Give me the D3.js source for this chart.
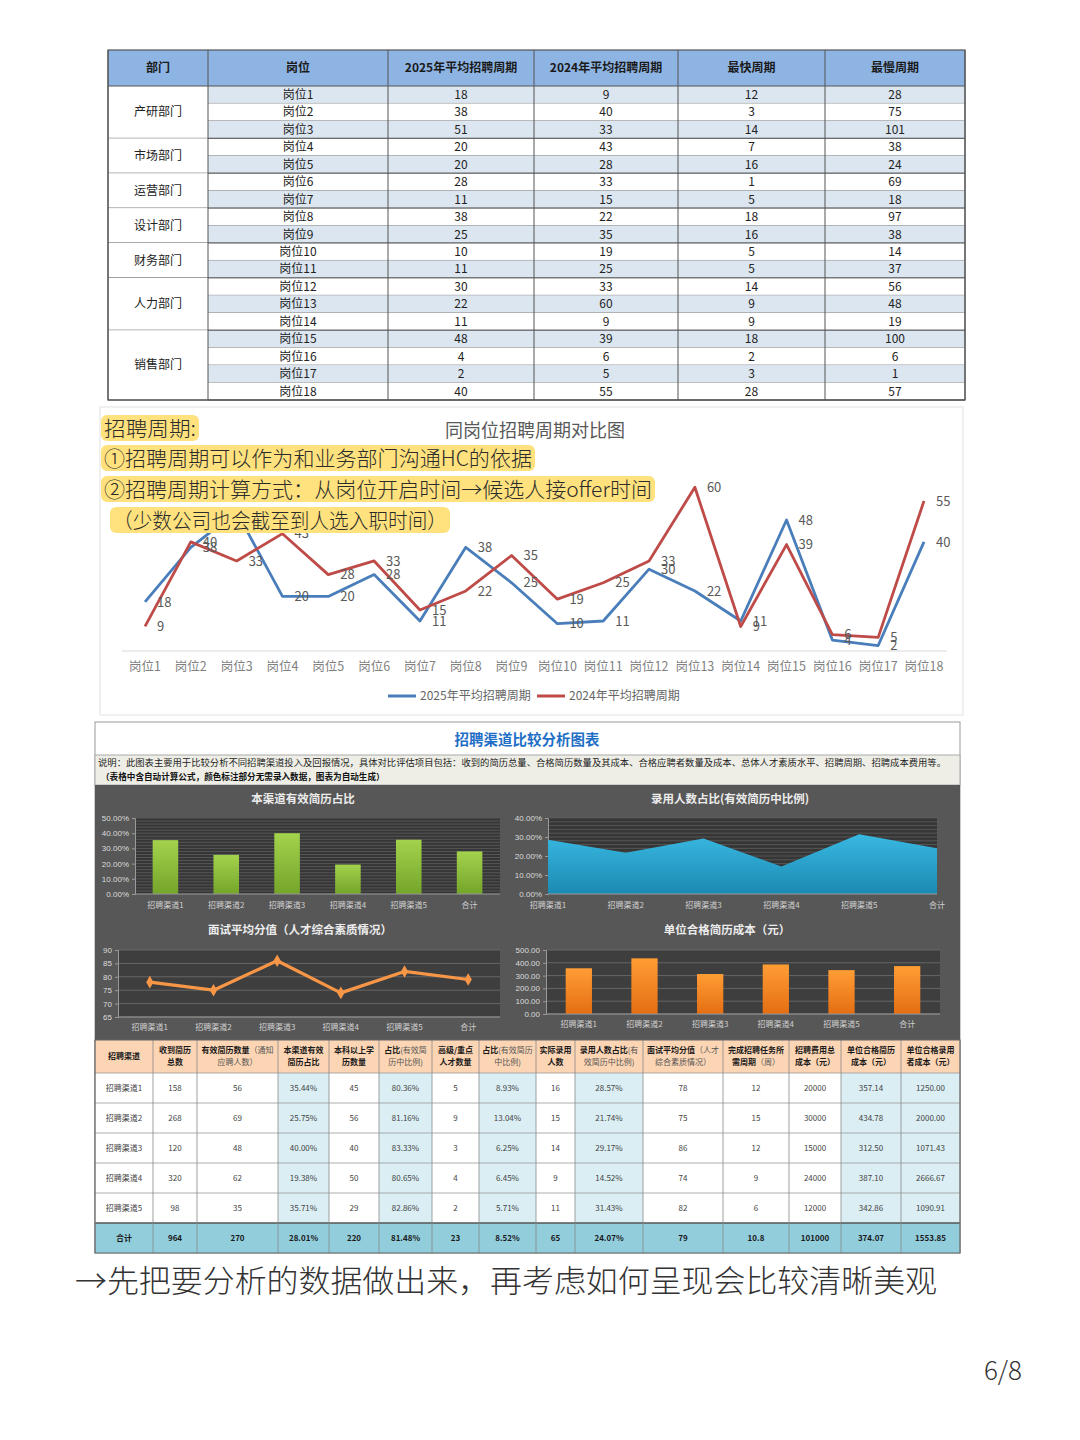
<!DOCTYPE html>
<html>
<head>
<meta charset="utf-8">
<script src="https://cdn.jsdelivr.net/npm/d3@7"></script>
<style>
body { margin: 0; background: #fff; }
svg { display: block; }
</style>
</head>
<body>
<div id="chart"></div>
<script>
// ---------- data: position table ----------
const positions = ['岗位1','岗位2','岗位3','岗位4','岗位5','岗位6','岗位7','岗位8','岗位9',
                   '岗位10','岗位11','岗位12','岗位13','岗位14','岗位15','岗位16','岗位17','岗位18'];
const deptNames = ['产研部门','市场部门','运营部门','设计部门','财务部门','人力部门','销售部门'];
const deptSizes = [3, 2, 2, 2, 2, 3, 4];
const cycle2025 = [18,38,51,20,20,28,11,38,25,10,11,30,22,11,48,4,2,40];
const cycle2024 = [9,40,33,43,28,33,15,22,35,19,25,33,60,9,39,6,5,55];
const fastest   = [12,3,14,7,16,1,5,18,16,5,5,14,9,9,18,2,3,28];
const slowest   = [28,75,101,38,24,69,18,97,38,14,37,56,48,19,100,6,1,57];
const tableHeaders = ['部门','岗位','2025年平均招聘周期','2024年平均招聘周期','最快周期','最慢周期'];
const seriesNames = ['2025年平均招聘周期','2024年平均招聘周期'];

// ---------- data: channels (last item = 合计) ----------
const channels      = ['招聘渠道1','招聘渠道2','招聘渠道3','招聘渠道4','招聘渠道5','合计'];
const received      = [158,268,120,320,98,964];
const validCount    = [56,69,48,62,35,270];
const validRate     = [35.44,25.75,40.00,19.38,35.71,28.01];
const bachelor      = [45,56,40,50,29,220];
const bachelorRate  = [80.36,81.16,83.33,80.65,82.86,81.48];
const senior        = [5,9,3,4,2,23];
const seniorRate    = [8.93,13.04,6.25,6.45,5.71,8.52];
const hired         = [16,15,14,9,11,65];
const hireRate      = [28.57,21.74,29.17,14.52,31.43,24.07];
const score         = [78,75,86,74,82,79];
const weeks         = [12,15,12,9,6,10.8];
const totalCost     = [20000,30000,15000,24000,12000,101000];
const costPerResume = [357.14,434.78,312.50,387.10,342.86,374.07];
const costPerHire   = [1250.00,2000.00,1071.43,2666.67,1090.91,1553.85];

const notes = ['招聘周期:', '①招聘周期可以作为和业务部门沟通HC的依据',
               '②招聘周期计算方式：从岗位开启时间→候选人接offer时间', '（少数公司也会截至到人选入职时间）'];

const sans = '"Noto Sans CJK SC","Noto Sans",sans-serif';
const svg = d3.select('#chart').append('svg')
    .attr('width', 1080).attr('height', 1440)
    .style('font-family', sans);

// ================= top table =================
const tColX = [108, 208, 388, 534, 678, 825, 965];
const tTop = 50, tHeadH = 36, tRowH = (400 - 86) / 18;
const tbl = svg.append('g');
tbl.append('rect').attr('x', 108).attr('y', tTop).attr('width', 857).attr('height', tHeadH).attr('fill', '#8EB4E3');
tableHeaders.forEach((h, i) => {
    tbl.append('text').attr('x', (tColX[i] + tColX[i + 1]) / 2).attr('y', tTop + tHeadH / 2)
        .attr('dy', '0.35em').attr('text-anchor', 'middle').attr('font-size', 12).attr('font-weight', 'bold')
        .attr('fill', '#1a1a1a').text(h);
});
positions.forEach((p, i) => {
    const y = tTop + tHeadH + i * tRowH;
    tbl.append('rect').attr('x', 208).attr('y', y).attr('width', 757).attr('height', tRowH)
        .attr('fill', i % 2 ? '#ffffff' : '#DCE6F1');
    tbl.append('line').attr('x1', 208).attr('x2', 965).attr('y1', y + tRowH).attr('y2', y + tRowH)
        .attr('stroke', '#666').attr('stroke-width', 0.8);
    [p, cycle2025[i], cycle2024[i], fastest[i], slowest[i]].forEach((v, j) => {
        tbl.append('text').attr('x', (tColX[j + 1] + tColX[j + 2]) / 2).attr('y', y + tRowH / 2)
            .attr('dy', '0.36em').attr('text-anchor', 'middle').attr('font-size', 12)
            .attr('fill', '#222').text(v);
    });
});
let start = 0;
deptNames.forEach((d, k) => {
    const y0 = tTop + tHeadH + start * tRowH, h = deptSizes[k] * tRowH;
    tbl.append('rect').attr('x', 108).attr('y', y0).attr('width', 100).attr('height', h).attr('fill', '#fff');
    tbl.append('text').attr('x', 158).attr('y', y0 + h / 2).attr('dy', '0.36em').attr('text-anchor', 'middle')
        .attr('font-size', 12).attr('fill', '#222').text(d);
    tbl.append('line').attr('x1', 108).attr('x2', 965).attr('y1', y0 + h).attr('y2', y0 + h)
        .attr('stroke', '#555').attr('stroke-width', 1);
    start += deptSizes[k];
});
tbl.append('line').attr('x1', 108).attr('x2', 965).attr('y1', tTop + tHeadH).attr('y2', tTop + tHeadH).attr('stroke', '#555');
tColX.forEach(x => tbl.append('line').attr('x1', x).attr('x2', x).attr('y1', tTop).attr('y2', 400)
    .attr('stroke', '#555').attr('stroke-width', 1));
tbl.append('rect').attr('x', 108).attr('y', tTop).attr('width', 857).attr('height', 350)
    .attr('fill', 'none').attr('stroke', '#555').attr('stroke-width', 1.2);

// ================= line chart =================
const lc = svg.append('g');
lc.append('rect').attr('x', 100).attr('y', 407).attr('width', 863).attr('height', 308)
    .attr('fill', '#fff').attr('stroke', '#e2e2e2');
lc.append('text').attr('x', 535).attr('y', 437).attr('text-anchor', 'middle').attr('font-size', 18)
    .attr('fill', '#595959').text('同岗位招聘周期对比图');

const x = d3.scalePoint().domain(positions).range([145, 924]);
const y = d3.scaleLinear().domain([0, 70]).range([651, 460]);
lc.append('line').attr('x1', 122).attr('x2', 947).attr('y1', y(0)).attr('y2', y(0)).attr('stroke', '#d9d9d9');
lc.append('g').selectAll('text').data(positions).enter().append('text')
    .attr('x', d => x(d)).attr('y', 671).attr('text-anchor', 'middle').attr('font-size', 12.5)
    .attr('fill', '#7f7f7f').text(d => d);

const series = [
    { name: seriesNames[0], values: cycle2025, color: '#4A7EBB' },
    { name: seriesNames[1], values: cycle2024, color: '#BE4B48' }
];
const line = d3.line().x((d, i) => x(positions[i])).y(d => y(d));
series.forEach(s => {
    lc.append('path').datum(s.values).attr('d', line).attr('fill', 'none')
        .attr('stroke', s.color).attr('stroke-width', 2.8).attr('stroke-linejoin', 'round');
});
series.forEach(s => {
    lc.append('g').selectAll('text').data(s.values).enter().append('text')
        .attr('x', (d, i) => x(positions[i]) + 12).attr('y', d => y(d)).attr('dy', '0.36em')
        .attr('font-size', 13).attr('fill', '#595959').text(d => d);
});
// legend
const lg = lc.append('g').attr('transform', 'translate(388,696)');
series.forEach((s, i) => {
    const gx = i * 149;
    lg.append('line').attr('x1', gx).attr('x2', gx + 28).attr('stroke', s.color).attr('stroke-width', 3);
    lg.append('text').attr('x', gx + 32).attr('dy', '0.36em').attr('font-size', 12).attr('fill', '#666').text(s.name);
});

// annotation (highlighted notes over the chart)
const ann = svg.append('g');
const annY = [428, 458, 489, 520], annX = [104, 104, 104, 113], annW = [92, 428, 548, 334];
notes.forEach((t, i) => {
    const g = ann.append('g');
    g.append('rect').attr('x', annX[i] - 3).attr('y', annY[i] - 13).attr('width', annW[i] + 6).attr('height', 26)
        .attr('rx', 6).attr('fill', '#FFE27E');
    g.append('text').attr('x', annX[i]).attr('y', annY[i]).attr('dy', '0.36em')
        .attr('font-size', 21).attr('fill', '#2b2b2b').attr('font-weight', 300)
        .attr('textLength', annW[i]).attr('lengthAdjust', 'spacingAndGlyphs').text(t);
});

// ================= channel dashboard =================
const db = svg.append('g');
db.append('rect').attr('x', 95).attr('y', 722).attr('width', 865).attr('height', 531)
    .attr('fill', '#fff').attr('stroke', '#999');
db.append('text').attr('x', 527).attr('y', 740).attr('dy', '0.36em').attr('text-anchor', 'middle')
    .attr('font-size', 14.5).attr('font-weight', 'bold').attr('fill', '#1F6FC6').text('招聘渠道比较分析图表');
db.append('rect').attr('x', 95).attr('y', 755).attr('width', 865).attr('height', 30)
    .attr('fill', '#EEEEE6').attr('stroke', '#aaa');
db.append('text').attr('x', 98).attr('y', 763).attr('dy', '0.36em').attr('font-size', 8.6).attr('fill', '#222')
    .attr('textLength', 848).attr('lengthAdjust', 'spacingAndGlyphs')
    .text('说明：此图表主要用于比较分析不同招聘渠道投入及回报情况，具体对比评估项目包括：收到的简历总量、合格简历数量及其成本、合格应聘者数量及成本、总体人才素质水平、招聘周期、招聘成本费用等。');
db.append('text').attr('x', 101).attr('y', 777).attr('dy', '0.36em').attr('font-size', 8.6)
    .attr('font-weight', 'bold').attr('fill', '#111')
    .text('（表格中含自动计算公式，颜色标注部分无需录入数据，图表为自动生成）');
db.append('rect').attr('x', 95).attr('y', 785).attr('width', 865).attr('height', 255).attr('fill', '#575757');

const defs = svg.append('defs');
function grad(id, top, bottom) {
    const g = defs.append('linearGradient').attr('id', id).attr('x1', 0).attr('x2', 0).attr('y1', 0).attr('y2', 1);
    g.append('stop').attr('offset', '0%').attr('stop-color', top);
    g.append('stop').attr('offset', '100%').attr('stop-color', bottom);
}
grad('gGreen', '#A3D24C', '#74A52A');
grad('gBlue', '#38B8E2', '#1C8AB2');
grad('gOrange', '#FF9D35', '#E46E12');

function miniChart(o) {
    const g = db.append('g');
    g.append('text').attr('x', o.titleX).attr('y', o.titleY).attr('dy', '0.36em').attr('text-anchor', 'middle')
        .attr('font-size', 11.5).attr('font-weight', 'bold').attr('fill', '#ececec').text(o.title);
    g.append('rect').attr('x', o.x0).attr('y', o.y0).attr('width', o.x1 - o.x0).attr('height', o.y1 - o.y0)
        .attr('fill', o.bg);
    const ys = d3.scaleLinear().domain(o.domain).range([o.y1, o.y0]);
    const gridVals = d3.range(o.domain[0], o.domain[1] + 1e-9, o.grid);
    g.append('g').selectAll('line').data(gridVals).enter().append('line')
        .attr('x1', o.x0).attr('x2', o.x1).attr('y1', d => ys(d)).attr('y2', d => ys(d))
        .attr('stroke', o.gridColor).attr('stroke-width', 0.9);
    const ya = g.append('g').attr('transform', `translate(${o.x0},0)`)
        .call(d3.axisLeft(ys).tickValues(d3.range(o.domain[0], o.domain[1] + 1e-9, o.step)).tickFormat(o.fmt).tickSize(3));
    ya.selectAll('text').attr('font-size', 8).attr('fill', '#dcdcdc').attr('font-family', '"Liberation Sans",Arial,sans-serif');
    ya.selectAll('line,path').attr('stroke', '#999');

    let xs;
    if (o.type === 'area') xs = d3.scalePoint().domain(channels).range([o.x0, o.x1]);
    else xs = d3.scaleBand().domain(channels).range([o.x0, o.x1]).paddingInner(o.pad).paddingOuter(o.pad / 2);
    const cx = d => o.type === 'area' ? xs(d) : xs(d) + xs.bandwidth() / 2;

    if (o.type === 'bar') {
        g.append('g').selectAll('rect').data(o.values).enter().append('rect')
            .attr('x', (d, i) => xs(channels[i])).attr('width', xs.bandwidth())
            .attr('y', d => ys(d)).attr('height', d => ys(o.domain[0]) - ys(d)).attr('fill', o.fill);
    } else if (o.type === 'area') {
        const area = d3.area().x((d, i) => cx(channels[i])).y0(ys(o.domain[0])).y1(d => ys(d));
        g.append('path').datum(o.values).attr('d', area).attr('fill', o.fill);
    } else {
        const ln = d3.line().x((d, i) => cx(channels[i])).y(d => ys(d));
        g.append('path').datum(o.values).attr('d', ln).attr('fill', 'none')
            .attr('stroke', o.fill).attr('stroke-width', 3.2).attr('stroke-linejoin', 'round');
        g.append('g').selectAll('path').data(o.values).enter().append('path')
            .attr('d', d3.symbol(d3.symbolDiamond, 46))
            .attr('transform', (d, i) => `translate(${cx(channels[i])},${ys(d)})`).attr('fill', o.fill);
    }
    g.append('line').attr('x1', o.x0).attr('x2', o.x1).attr('y1', o.y1).attr('y2', o.y1).attr('stroke', '#999');
    g.append('g').selectAll('text').data(channels).enter().append('text')
        .attr('x', d => cx(d)).attr('y', o.y1 + o.labelDy).attr('dy', '0.36em').attr('text-anchor', 'middle')
        .attr('font-size', 8).attr('fill', '#d0d0d0').text(d => d);
}

const pctFmt = d => d.toFixed(2) + '%';
miniChart({ title: '本渠道有效简历占比', titleX: 303, titleY: 799, x0: 135, x1: 500, y0: 818, y1: 894,
    domain: [0, 50], step: 10, grid: 2, gridColor: '#5a5a5a', bg: '#363636', fmt: pctFmt,
    type: 'bar', values: validRate, fill: 'url(#gGreen)', pad: 0.58, labelDy: 11 });
miniChart({ title: '录用人数占比(有效简历中比例)', titleX: 730, titleY: 799, x0: 548, x1: 937, y0: 818, y1: 894,
    domain: [0, 40], step: 10, grid: 2, gridColor: '#5a5a5a', bg: '#363636', fmt: pctFmt,
    type: 'area', values: hireRate, fill: 'url(#gBlue)', labelDy: 11 });
miniChart({ title: '面试平均分值（人才综合素质情况）', titleX: 300, titleY: 930, x0: 118, x1: 500, y0: 950, y1: 1017,
    domain: [65, 90], step: 5, grid: 5, gridColor: '#6b6b6b', bg: '#3e3e3e', fmt: d3.format('d'),
    type: 'line', values: score, fill: '#F79646', pad: 0.5, labelDy: 10 });
miniChart({ title: '单位合格简历成本（元）', titleX: 727, titleY: 930, x0: 546, x1: 940, y0: 950, y1: 1014,
    domain: [0, 500], step: 100, grid: 100, gridColor: '#6b6b6b', bg: '#3e3e3e', fmt: d => d.toFixed(2),
    type: 'bar', values: costPerResume, fill: 'url(#gOrange)', pad: 0.6, labelDy: 10 });

// ================= channel table =================
const cColX = [95, 153, 197, 278, 329, 379, 432, 479, 536, 575, 643, 723, 789, 841, 901, 960];
const cHeadTop = 1040, cHeadH = 33, cRowH = 30;
const cHeaders = [
    [[['招聘渠道', 1]]],
    [[['收到简历', 1]], [['总数', 1]]],
    [[['有效简历数量', 1], ['（通知', 0]], [['应聘人数）', 0]]],
    [[['本渠道有效', 1]], [['简历占比', 1]]],
    [[['本科以上学', 1]], [['历数量', 1]]],
    [[['占比', 1], ['(有效简', 0]], [['历中比例)', 0]]],
    [[['高级/重点', 1]], [['人才数量', 1]]],
    [[['占比', 1], ['(有效简历', 0]], [['中比例)', 0]]],
    [[['实际录用', 1]], [['人数', 1]]],
    [[['录用人数占比', 1], ['(有', 0]], [['效简历中比例)', 0]]],
    [[['面试平均分值', 1], ['（人才', 0]], [['综合素质情况）', 0]]],
    [[['完成招聘任务所', 1]], [['需周期', 1], ['（周）', 0]]],
    [[['招聘费用总', 1]], [['成本（元）', 1]]],
    [[['单位合格简历', 1]], [['成本（元）', 1]]],
    [[['单位合格录用', 1]], [['者成本（元）', 1]]]
];
const shaded = [3, 5, 7, 9, 13, 14];
const ct = db.append('g');
ct.append('rect').attr('x', 95).attr('y', cHeadTop).attr('width', 865).attr('height', cHeadH).attr('fill', '#FCD5B4');
cHeaders.forEach((lines, i) => {
    const cxm = (cColX[i] + cColX[i + 1]) / 2;
    lines.forEach((segs, li) => {
        const ly = lines.length === 1 ? cHeadTop + cHeadH / 2 : cHeadTop + 10 + li * 12;
        const t = ct.append('text').attr('x', cxm).attr('y', ly).attr('dy', '0.36em').attr('text-anchor', 'middle')
            .attr('font-size', 8);
        segs.forEach(s => t.append('tspan').attr('font-weight', s[1] ? 'bold' : 'normal')
            .attr('fill', s[1] ? '#1a1a1a' : '#555').text(s[0]));
    });
});
channels.forEach((c, r) => {
    const y0 = cHeadTop + cHeadH + r * cRowH;
    const isTotal = r === channels.length - 1;
    const vals = [c, received[r], validCount[r], pctFmt(validRate[r]), bachelor[r], pctFmt(bachelorRate[r]),
        senior[r], pctFmt(seniorRate[r]), hired[r], pctFmt(hireRate[r]), score[r], weeks[r], totalCost[r],
        costPerResume[r].toFixed(2), costPerHire[r].toFixed(2)];
    vals.forEach((v, j) => {
        const fill = isTotal ? '#92CDDC' : (shaded.includes(j) ? '#DAEEF3' : '#ffffff');
        ct.append('rect').attr('x', cColX[j]).attr('y', y0).attr('width', cColX[j + 1] - cColX[j]).attr('height', cRowH)
            .attr('fill', fill);
        ct.append('text').attr('x', (cColX[j] + cColX[j + 1]) / 2).attr('y', y0 + cRowH / 2).attr('dy', '0.36em')
            .attr('text-anchor', 'middle').attr('font-size', 8).attr('font-weight', isTotal ? 'bold' : 'normal')
            .attr('fill', isTotal ? '#1a1a1a' : '#444').text(v);
    });
    ct.append('line').attr('x1', 95).attr('x2', 960).attr('y1', y0).attr('y2', y0)
        .attr('stroke', isTotal ? '#555' : '#999').attr('stroke-width', isTotal ? 1.5 : 0.8);
});
cColX.forEach(xv => ct.append('line').attr('x1', xv).attr('x2', xv).attr('y1', cHeadTop).attr('y2', 1253)
    .attr('stroke', '#888').attr('stroke-width', 0.8));
ct.append('rect').attr('x', 95).attr('y', cHeadTop).attr('width', 865).attr('height', 1253 - cHeadTop)
    .attr('fill', 'none').attr('stroke', '#666');

// ================= captions =================
svg.append('text').attr('x', 75).attr('y', 1292).attr('font-size', 31).attr('font-weight', 300)
    .attr('textLength', 862).attr('lengthAdjust', 'spacingAndGlyphs')
    .attr('fill', '#333').text('→先把要分析的数据做出来，再考虑如何呈现会比较清晰美观');
svg.append('text').attr('x', 1022).attr('y', 1380).attr('text-anchor', 'end').attr('font-size', 26)
    .attr('font-weight', 300).attr('fill', '#333').text('6/8');
</script>
</body>
</html>
